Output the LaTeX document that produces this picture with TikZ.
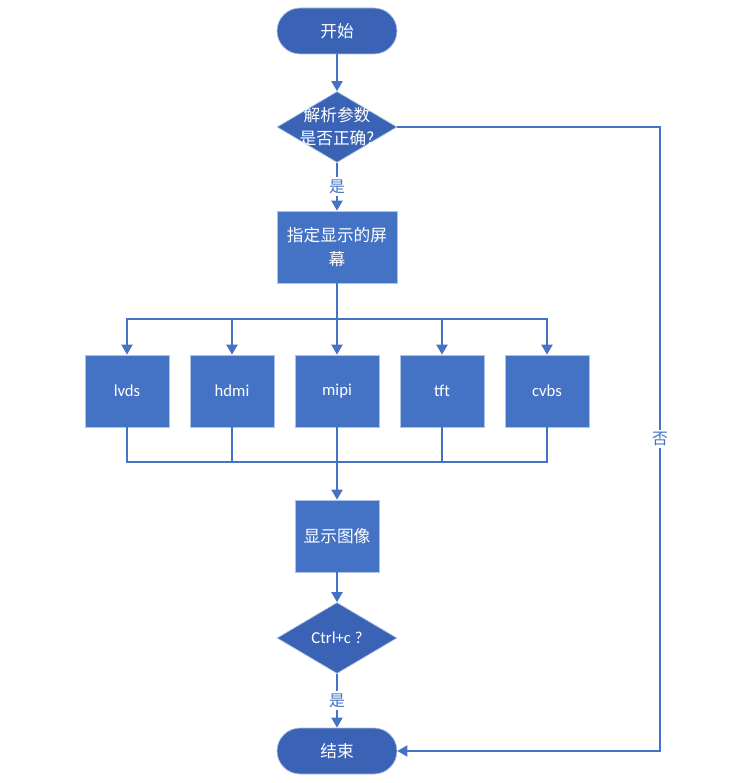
\documentclass[tikz,border=0pt]{standalone}
\usepackage{fontspec}
\setmainfont{Carlito}
\newfontfamily\cjk{Noto Sans CJK SC}
\usetikzlibrary{shapes.geometric,arrows.meta}
\definecolor{boxblue}{HTML}{4472C4}
\definecolor{termblue}{HTML}{3A63B5}
\definecolor{edgeblue}{HTML}{AFC3E8}
\begin{document}
\begin{tikzpicture}[x=0.02cm,y=-0.02cm]
    \tikzstyle{arrow} = [line width=1.1pt, draw=boxblue, -{Triangle[width=0.22cm,length=0.2cm]}]
    \tikzstyle{line} = [line width=1.1pt, draw=boxblue]
    \tikzstyle{term} = [rectangle, rounded corners=0.46cm, minimum width=2.4cm, minimum height=0.92cm, fill=termblue, draw=edgeblue, line width=0.4pt, text=white, font=\cjk\fontsize{9.5}{12}\selectfont]
    \tikzstyle{dec} = [diamond, minimum width=2.4cm, minimum height=1.42cm, inner sep=0pt, fill=termblue, draw=edgeblue, line width=0.4pt]
    \tikzstyle{dectext} = [text=white, align=center, font=\fontsize{9.5}{13}\selectfont]
    \tikzstyle{proc} = [rectangle, minimum width=1.68cm, minimum height=1.44cm, fill=boxblue, draw=edgeblue, line width=0.4pt, text=white, align=center, font=\fontsize{9.5}{14}\selectfont]
    \tikzstyle{lbl} = [fill=white, text=boxblue, inner sep=1.5pt, font=\cjk\fontsize{9}{11}\selectfont]

    \useasboundingbox (0,0) rectangle (753,783);
    \fill[white] (0,0) rectangle (753,783);

    \node[term](Start) at (337,31){开始};
    \node[dec](Parse) at (337,127){};
    \node[dectext] at (Parse){\cjk 解析参数\\\cjk 是否正确?};
    \node[proc, minimum width=2.4cm](Screen) at (337,247){\cjk 指定显示的屏\\\cjk 幕};

    \node[proc](Lvds) at (127,391){lvds};
    \node[proc](Hdmi) at (232,391){hdmi};
    \node[proc](Mipi) at (337,391){mipi};
    \node[proc](Tft) at (442,391){tft};
    \node[proc](Cvbs) at (547,391){cvbs};

    \node[proc](Show) at (337,536){\cjk 显示图像};
    \node[dec](Quit) at (337,638){};
    \node[dectext] at (Quit){Ctrl+c ?};
    \node[term](End) at (337,751){结束};

    \coordinate (Split) at (337,319);
    \coordinate (Join) at (337,462);
    \coordinate (NoTop) at (660,127);
    \coordinate (NoBot) at (660,751);

    \draw[arrow](Start)--(Parse);
    \draw[arrow](Parse)--node[lbl]{是}(Screen);
    \draw[line](Screen)--(Split);
    \draw[arrow](Split)-|(Lvds);
    \draw[arrow](Split)-|(Hdmi);
    \draw[arrow](Split)--(Mipi);
    \draw[arrow](Split)-|(Tft);
    \draw[arrow](Split)-|(Cvbs);

    \draw[line](Lvds)|-(Join);
    \draw[line](Hdmi)|-(Join);
    \draw[line](Mipi)--(Join);
    \draw[line](Tft)|-(Join);
    \draw[line](Cvbs)|-(Join);
    \draw[arrow](Join)--(Show);

    \draw[arrow](Show)--(Quit);
    \draw[arrow](Quit)--node[lbl]{是}(End);
    \draw[arrow](Parse.east)--(NoTop)--node[lbl]{否}(NoBot)--(End.east);

\end{tikzpicture}
\end{document}
